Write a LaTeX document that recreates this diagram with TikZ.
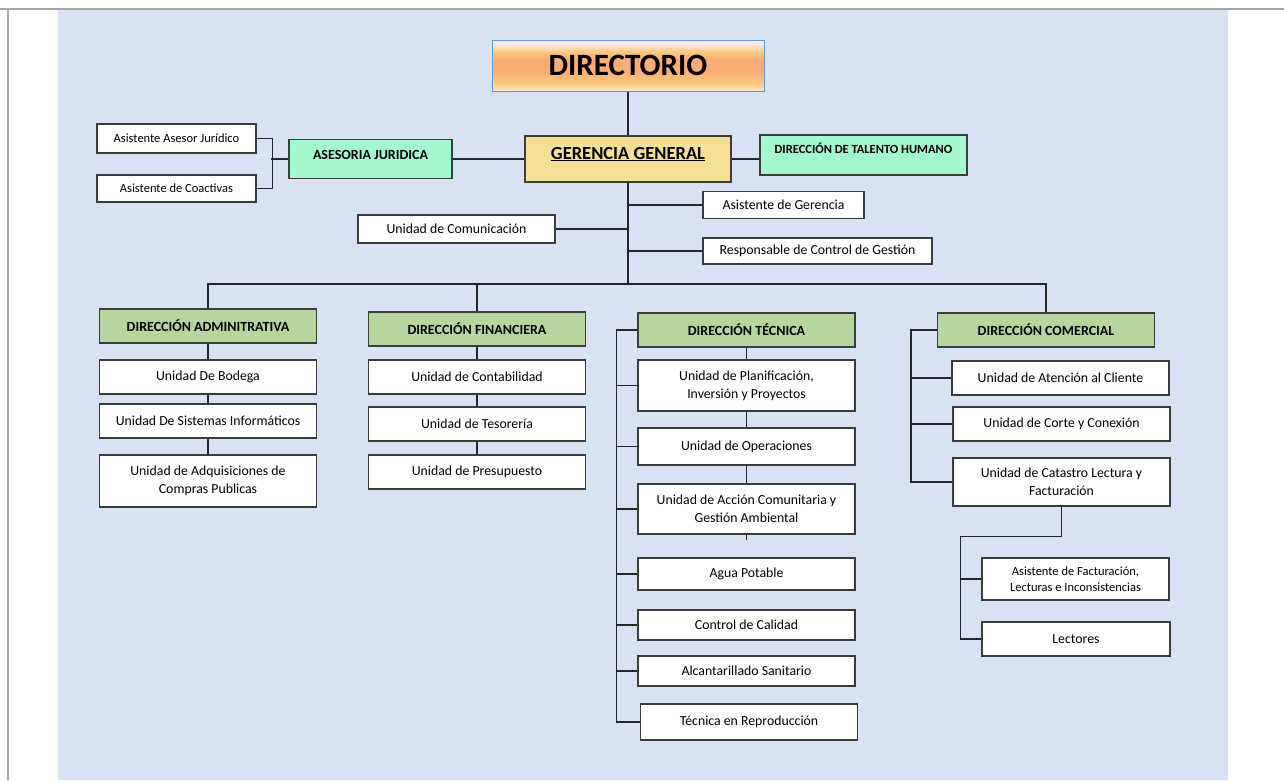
\documentclass[tikz,border=0pt]{standalone}
\usepackage{fontspec}
\setmainfont{Carlito}
\usepackage{tikz}
\usetikzlibrary{positioning, calc}
\definecolor{pageblue}{RGB}{217,226,243}
\definecolor{framegray}{RGB}{165,165,165}
\definecolor{boxgray}{RGB}{60,60,60}
\definecolor{dirgreen}{RGB}{181,214,158}
\definecolor{mintgreen}{RGB}{164,248,206}
\definecolor{goldfill}{RGB}{245,223,151}
\definecolor{dirblue}{RGB}{91,155,213}
\definecolor{dirpink}{RGB}{253,228,226}
\definecolor{dircream}{RGB}{253,236,214}
\definecolor{diryellow}{RGB}{249,204,125}
\definecolor{dirorange}{RGB}{250,173,117}
\pgfdeclareverticalshading{dirshading}{100bp}{color(0bp)=(dirpink); color(25bp)=(dirpink); color(32bp)=(diryellow); color(44bp)=(dirorange); color(56bp)=(dirorange); color(64bp)=(diryellow); color(70bp)=(dirpink); color(75bp)=(dircream); color(100bp)=(dircream)}
\tikzset{
box/.style={draw=boxgray, line width=1.4pt, fill=white, inner sep=1pt, align=center, font=\fontsize{13.8}{18}\selectfont}, % every white box
unit/.style={box, minimum width=217pt, minimum height=34pt}, % boxes of the four columns
small/.style={box, font=\fontsize{12.5}{16}\selectfont}, % boxes with the smaller text
dir/.style={unit, fill=dirgreen, font=\fontsize{14}{16}\selectfont\bfseries}, % the four directions
legal/.style={box, fill=mintgreen, font=\fontsize{14}{16}\selectfont\bfseries}, % mint boxes beside the manager
link/.style={draw=black!85, line width=1.5pt}, % connectors
}

\begin{document}
\begin{tikzpicture}[x=1pt, y=-1pt]
  \useasboundingbox (0,0) rectangle (1284,780);
  \fill[pageblue] (58,9) rectangle (1228,780);
  \draw[framegray, line width=2pt] (0,8.5) -- (1284,8.5);
  \draw[framegray, line width=2pt] (7.8,8.5) -- (7.8,780);

  % top of the chart
  \node[draw=dirblue, line width=1pt, shading=dirshading, minimum width=272pt, minimum height=51pt, font=\fontsize{31}{31}\selectfont\bfseries] (dirc) at (628,65.5) {DIRECTORIO};
  \node[box, fill=goldfill, minimum width=206pt, minimum height=46pt, text depth=12pt, font=\fontsize{18.5}{20}\selectfont\bfseries] (ger) at (628,159) {\underline{GERENCIA GENERAL}};
  \node[legal, minimum width=163pt, minimum height=39pt, text depth=8pt] (jur) at (370.5,159) {ASESORIA JURIDICA};
  \node[legal, minimum width=207pt, minimum height=40pt, text depth=13pt, font=\fontsize{12.5}{14}\selectfont\bfseries] (tal) at (863.5,155) {DIRECCIÓN DE TALENTO HUMANO};
  \node[small, minimum width=159pt, minimum height=29pt] (aaj) at (176.5,138.5) {Asistente Asesor Jurídico};
  \node[small, minimum width=159pt, minimum height=27pt] (coa) at (176.5,188.5) {Asistente de Coactivas};
  \node[box, minimum width=161pt, minimum height=27pt] (asg) at (783.5,205) {Asistente de Gerencia};
  \node[box, minimum width=197pt, minimum height=28pt] (comu) at (456.5,229) {Unidad de Comunicación};
  \node[box, minimum width=229pt, minimum height=26pt] (resp) at (817.5,251) {Responsable de Control de Gestión};

  % administrativa
  \node[dir] (adm) at (208,326) {DIRECCIÓN ADMINITRATIVA};
  \node[unit] (bod) at (208,377) {Unidad De Bodega};
  \node[unit] (sis) at (208,421) {Unidad De Sistemas Informáticos};
  \node[unit, minimum height=52pt] (adq) at (208,481) {Unidad de Adquisiciones de\\Compras Publicas};

  % financiera
  \node[dir] (fin) at (477,329) {DIRECCIÓN FINANCIERA};
  \node[unit] (cont) at (477,377) {Unidad de Contabilidad};
  \node[unit] (tes) at (477,424) {Unidad de Tesorería};
  \node[unit] (pres) at (477,472) {Unidad de Presupuesto};

  % tecnica
  \node[dir] (tec) at (746.5,330) {DIRECCIÓN TÉCNICA};
  \node[unit, minimum height=51pt] (plan) at (746.5,385.5) {Unidad de Planificación,\\Inversión y Proyectos};
  \node[unit, minimum height=37pt] (oper) at (746.5,446.5) {Unidad de Operaciones};
  \node[unit, minimum height=50pt] (acc) at (746.5,509) {Unidad de Acción Comunitaria y\\Gestión Ambiental};
  \node[unit, minimum height=32pt] (agua) at (746.5,574) {Agua Potable};
  \node[unit, minimum height=30pt] (cal) at (746.5,625) {Control de Calidad};
  \node[unit, minimum height=30pt] (alc) at (746.5,671) {Alcantarillado Sanitario};
  \node[unit, minimum height=36pt] (repr) at (749,722) {Técnica en Reproducción};

  % comercial
  \node[dir] (comr) at (1046,330) {DIRECCIÓN COMERCIAL};
  \node[unit] (aten) at (1060.5,378) {Unidad de Atención al Cliente};
  \node[unit] (corte) at (1061.5,424) {Unidad de Corte y Conexión};
  \node[unit, minimum height=48pt] (cat) at (1061.5,482) {Unidad de Catastro Lectura y\\Facturación};
  \node[small, minimum width=187pt, minimum height=42pt] (fact) at (1075.5,579) {Asistente de Facturación,\\Lecturas e Inconsistencias};
  \node[unit, minimum width=188pt] (lect) at (1076,639) {Lectores};

  \coordinate (bus) at (628,284);
  \draw[link] (dirc) -- (ger);
  \draw[link] (jur.east) -- (jur.east -| ger.west);
  \draw[link] (ger.east) -- (ger.east -| tal.west);
  \draw[link] (aaj.east) -- ++(16,0) |- (coa.east);
  \draw[link] (jur.west) -- ++(-17,0);
  \draw[link] (ger.south) -- (bus);
  \draw[link] (asg.west) -- (asg.west -| bus);
  \draw[link] (comu.east) -- (comu.east -| bus);
  \draw[link] (resp.west) -- (resp.west -| bus);
  \draw[link] (adm.north) |- (bus) -| (comr.north);
  \draw[link] (fin.north) -- (fin.north |- bus);

  \draw[link] (adm) -- (bod) (bod) -- (sis) (sis) -- (adq);
  \draw[link] (fin) -- (cont) (cont) -- (tes) (tes) -- (pres);
  \draw[link] (tec) -- (plan) (plan) -- (oper) (oper) -- (acc);
  \draw[link] (acc.south) -- ++(0,5);
  \draw[link] (tec.west) -- ++(-21,0) coordinate (tecL) |- (repr.west);
  \foreach \u in {plan,oper,acc,agua,cal,alc}
    \draw[link] (\u.west) -- (\u.west -| tecL);
  \draw[link] (comr.west) -- ++(-26,0) coordinate (comL) |- (cat.west);
  \foreach \u in {aten,corte}
    \draw[link] (\u.west) -- (\u.west -| comL);
  \draw[link] (cat.south) |- ++(-101,30) coordinate (catL) |- (lect.west);
  \draw[link] (fact.west) -- (fact.west -| catL);
\end{tikzpicture}
\end{document}
